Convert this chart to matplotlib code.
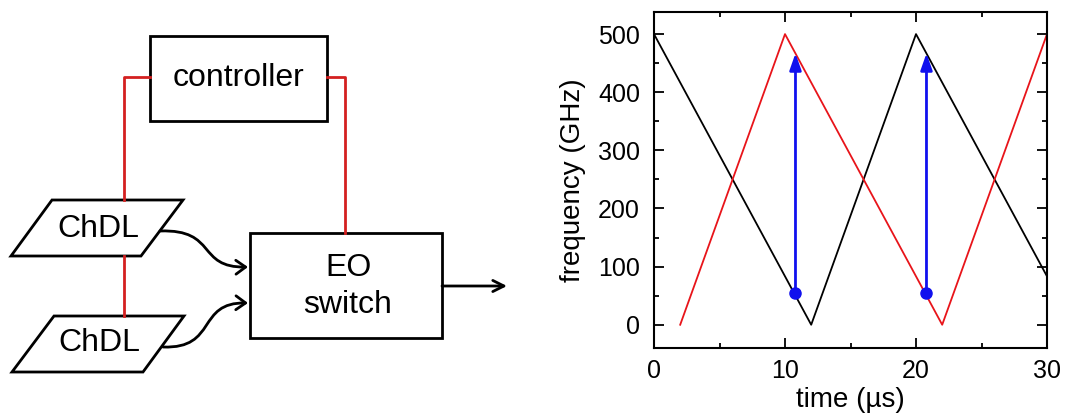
import numpy as np
import matplotlib.pyplot as plt
from matplotlib.patches import Rectangle, Polygon, FancyArrowPatch
from matplotlib.path import Path

plt.rcParams['font.family'] = ['Liberation Sans', 'DejaVu Sans']

# frequency sweeps (time in us, frequency in GHz)
t_black = [0, 12, 20, 30]
f_black = [500, 0, 500, 83.3]
t_red = [2, 10, 22, 30]
f_red = [0, 500, 0, 500]
# switching arrows
t_switch = [10.8, 20.8]
f_from = [55, 55]
f_to = [467, 467]

W, H = 1077, 417
fig = plt.figure(figsize=(W / 100, H / 100), dpi=100)

# ---- block diagram, drawn in pixel coords ----
ad = fig.add_axes([0, 0, 540 / W, 1])
ad.set_xlim(0, 540)
ad.set_ylim(H, 0)
ad.axis('off')

red = '#d42020'
lw = 2.0
# red control wires
ad.plot([150, 124, 124], [77, 77, 200], color=red, lw=lw)
ad.plot([124, 124], [256, 316], color=red, lw=lw)
ad.plot([327, 345, 345], [77, 77, 233], color=red, lw=lw)

# boxes
ad.add_patch(Rectangle((150, 36), 177, 85, fill=False, ec='black', lw=lw))
ad.add_patch(Rectangle((250, 233), 192, 105, fill=False, ec='black', lw=lw))
ad.add_patch(Polygon([(52, 200), (183, 200), (141, 256), (11, 256)],
                     closed=True, fill=False, ec='black', lw=lw))
ad.add_patch(Polygon([(54, 316), (184, 316), (143, 372), (12, 372)],
                     closed=True, fill=False, ec='black', lw=lw))

fs = 23
ad.text(239, 78, 'controller', ha='center', va='center', fontsize=fs)
ad.text(98, 229, 'ChDL', ha='center', va='center', fontsize=fs)
ad.text(99, 343, 'ChDL', ha='center', va='center', fontsize=fs)
ad.text(348, 268, 'EO', ha='center', va='center', fontsize=fs)
ad.text(348, 305, 'switch', ha='center', va='center', fontsize=fs)

# curved inputs
p1 = Path([(160, 231), (218, 229), (196, 268), (248, 267)],
          [Path.MOVETO, Path.CURVE4, Path.CURVE4, Path.CURVE4])
p2 = Path([(163, 347), (218, 349), (196, 302), (248, 303)],
          [Path.MOVETO, Path.CURVE4, Path.CURVE4, Path.CURVE4])
for p in (p1, p2):
    ad.add_patch(FancyArrowPatch(path=p, arrowstyle='->,head_length=7,head_width=5',
                                 color='black', lw=lw))
ad.annotate('', xy=(507, 286), xytext=(442, 286),
            arrowprops=dict(arrowstyle='->,head_length=0.8,head_width=0.4',
                            color='black', lw=lw, shrinkA=0, shrinkB=0))

# ---- frequency vs time plot ----
ax = fig.add_axes([654 / W, (H - 348) / H, (1047 - 654) / W, (348 - 12) / H])
ax.plot(t_black, f_black, color='black', lw=1.3)
ax.plot(t_red, f_red, color='#e8141a', lw=1.3)
for x, y0, y1 in zip(t_switch, f_from, f_to):
    ax.annotate('', xy=(x, y1), xytext=(x, y0),
                arrowprops=dict(arrowstyle='-|>,head_length=1.0,head_width=0.35',
                                color='#1010ee', lw=2, shrinkA=0, shrinkB=0))
    ax.plot(x, y0, 'o', color='#1010ee', ms=8)

ax.set_xlim(0, 30)
ax.set_ylim(-40, 538)
ax.set_xticks([0, 10, 20, 30])
ax.set_xticks([5, 15, 25], minor=True)
ax.set_yticks([0, 100, 200, 300, 400, 500])
ax.set_yticks(np.arange(50, 550, 100), minor=True)
ax.tick_params(which='both', direction='in', top=True, right=True, width=1.3)
ax.tick_params(which='major', length=7, labelsize=18)
ax.tick_params(axis='y', which='major', pad=10)
ax.tick_params(axis='x', which='major', pad=8)
ax.tick_params(which='minor', length=3.5)
for s in ax.spines.values():
    s.set_linewidth(1.5)
ax.set_xlabel('time (µs)', fontsize=20, labelpad=3)
ax.set_ylabel('frequency (GHz)', fontsize=20, labelpad=9)

fig.savefig('out.png', dpi=100)
